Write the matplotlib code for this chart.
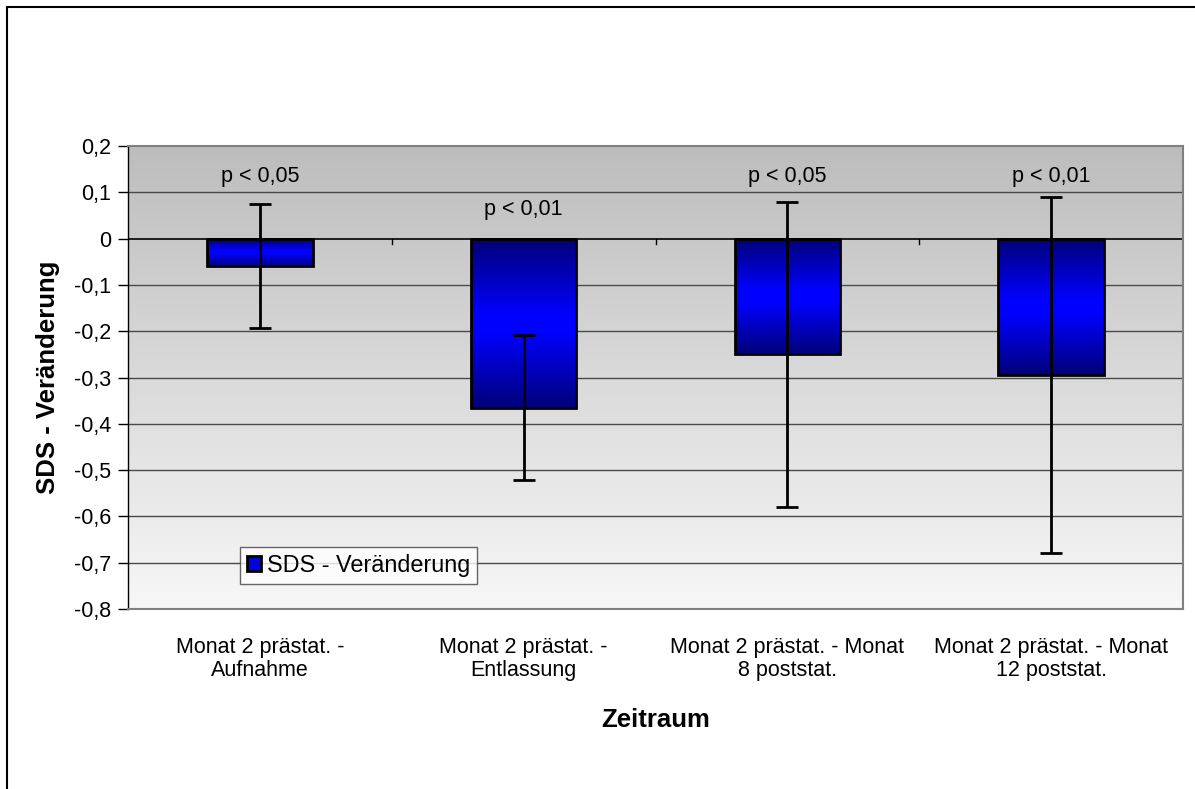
import numpy as np
import matplotlib.pyplot as plt
from matplotlib.colors import LinearSegmentedColormap
from matplotlib.patches import Rectangle

plt.rcParams['font.family'] = ['Liberation Sans', 'DejaVu Sans']

# data
categories = ['Monat 2 prästat. -\nAufnahme', 'Monat 2 prästat. -\nEntlassung',
              'Monat 2 prästat. - Monat\n8 poststat.', 'Monat 2 prästat. - Monat\n12 poststat.']
sds_change = [-0.06, -0.365, -0.25, -0.295]
sds_err = [0.134, 0.157, 0.33, 0.385]
p_labels = ['p < 0,05', 'p < 0,01', 'p < 0,05', 'p < 0,01']
p_label_y = [0.134, 0.063, 0.134, 0.134]
yticks = [0.2, 0.1, 0, -0.1, -0.2, -0.3, -0.4, -0.5, -0.6, -0.7, -0.8]

fs = 15.5

fig = plt.figure(figsize=(11.95, 7.89), dpi=100)
ax = fig.add_axes([128/1195, 1 - 609/789, 1055/1195, 463/789])

x = np.arange(len(categories))
ax.set_xlim(-0.5, len(categories) - 0.5)
ax.set_ylim(-0.8, 0.2)

# plot area gradient: gray at top, near white at bottom
bg = np.linspace(0, 1, 256).reshape(-1, 1)
bg_cmap = LinearSegmentedColormap.from_list('bg', ['#f7f7f7', '#bdbdbd'])
ax.imshow(bg, cmap=bg_cmap, aspect='auto', extent=[-0.5, 3.5, -0.8, 0.2],
          origin='lower', zorder=0)

# gridlines
for t in yticks:
    if t not in (0, 0.2, -0.8):
        ax.axhline(t, color='#4a4a4a', lw=1, zorder=1)
ax.axhline(0, color='black', lw=1.2, zorder=1)
# small tick marks on the zero line between categories
for b in [0.5, 1.5, 2.5]:
    ax.plot([b, b], [0, -0.012], color='black', lw=1, zorder=1)

# bars with vertical navy-blue-navy gradient
bar_cmap = LinearSegmentedColormap.from_list(
    'bar', [(0, '#000078'), (0.45, '#0000ff'), (0.55, '#0000ff'), (1, '#000078')])
bars = ax.bar(x, sds_change, width=0.4, color='none', edgecolor='black',
              lw=2, zorder=3)
for bar in bars:
    x0 = bar.get_x()
    w = bar.get_width()
    h = bar.get_height()
    grad = np.linspace(0, 1, 256).reshape(-1, 1)
    im = ax.imshow(grad, cmap=bar_cmap, aspect='auto',
                   extent=[x0, x0 + w, h, 0], zorder=2)
    im.set_clip_path(bar)

ax.errorbar(x, sds_change, yerr=sds_err, fmt='none', ecolor='black',
            elinewidth=2, capsize=8, capthick=2, zorder=4)

for xi, lab, ly in zip(x, p_labels, p_label_y):
    ax.text(xi, ly, lab, ha='center', va='center', fontsize=fs, zorder=5)

ax.set_yticks(yticks)
ax.set_yticklabels([('%g' % t).replace('.', ',') for t in yticks], fontsize=fs)
ax.set_xticks(x)
ax.set_xticklabels(categories, fontsize=fs, linespacing=1.15)
ax.tick_params(axis='x', length=0, pad=20)
ax.tick_params(axis='y', length=7, width=1, direction='out', pad=5)

for side in ['top', 'right', 'bottom']:
    ax.spines[side].set_color('#808080')
    ax.spines[side].set_linewidth(1.5)
ax.spines['left'].set_color('black')
ax.spines['left'].set_linewidth(1)

ax.set_xlabel('Zeitraum', fontsize=18.5, fontweight='bold', labelpad=19)
ax.set_ylabel('SDS - Veränderung', fontsize=18.5, fontweight='bold', labelpad=10)

leg = ax.legend([bars[0]], ['SDS - Veränderung'], loc='center left',
                bbox_to_anchor=(0.106, 0.095), fontsize=16.8, frameon=True,
                fancybox=False, handlelength=0.6, handleheight=0.6,
                handletextpad=0.25, borderpad=0.3, borderaxespad=0)
leg.get_frame().set_edgecolor('#404040')
leg.get_frame().set_linewidth(1)
leg.legend_handles[0].set_facecolor('#0000e0')
leg.legend_handles[0].set_edgecolor('black')

# outer chart frame (left and top edges visible)
fig.patches.append(Rectangle((7/1195, -0.1), 1.2, 1 - 7/789 + 0.1,
                             transform=fig.transFigure, fill=False,
                             edgecolor='black', lw=1.5))

fig.savefig('out.png', dpi=100)
